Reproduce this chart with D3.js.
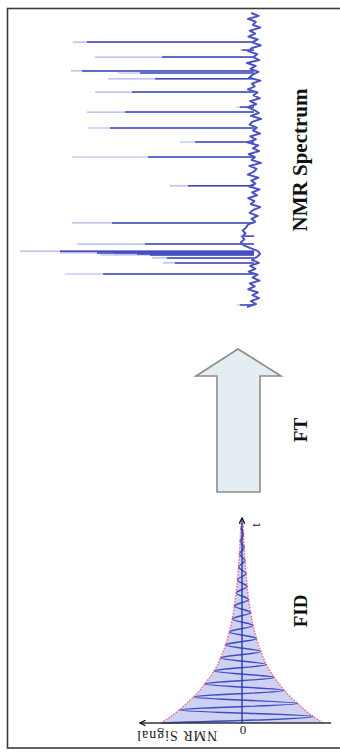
<!DOCTYPE html>
<html>
<head>
<meta charset="utf-8">
<script src="https://cdn.jsdelivr.net/npm/d3@7"></script>
<style>
  body { margin: 0; background: #fff; }
  svg { display: block; }
</style>
</head>
<body>
<div id="chart"></div>
<script>
// ---- NMR spectrum (peaks point to the left, chemical shift runs down) ----
const specPpm    = [9.01, 8.74, 8.50, 8.03, 7.96, 7.76, 7.31, 6.80, 6.63, 6.09, 5.61, 5.10, 4.12, 2.86, 2.41, 2.14, 1.90, 1.87, 1.84, 1.80, 1.77, 1.67, 1.50, 1.12, 0.07];
const specHeight = [77.4, 6.0, 67.9, 78.2, 58.1, 62.4, 67.9, 7.3, 71.4, 70.9, 31.6, 77.8, 35.9, 77.8, 6.0, 75.6, 100, 70, 82.9, 60, 65.8, 43.6, 38.9, 80.8, 7.3];
const specCore   = [71.4, 5.0, 39.3, 73.5, 48.7, 42.3, 52.1, 6.0, 55.1, 61.5, 25.2, 45.3, 28.2, 60.7, 5.0, 46.6, 82.9, 60, 67.1, 50, 44.4, 37.2, 33.8, 64.5, 6.0];
// baseline wiggle, one value every 0.1 ppm from 10 to 0
const baselineNoise = [
  1.2,-2.0,2.6,-0.8,0.5,-2.7,1.8,-0.5,2.4,-1.6,
  0.8,-2.9,1.1,2.5,-1.4,0.3,-2.3,3.0,-0.7,1.5,
  -1.9,0.6,2.1,-2.8,0.9,-0.3,2.6,-1.5,0.2,-2.5,
  1.7,-1.0,2.8,-0.1,-2.1,1.3,-3.1,0.7,1.9,-1.2,
  0.4,-2.6,1.6,-0.8,2.9,-1.8,0.5,-2.2,2.3,-0.4,
  1.0,-3.0,2.0,-1.1,0.1,2.7,-1.9,1.2,-0.6,2.2,
  -2.4,0.8,-1.3,2.5,-0.2,1.4,-2.7,0.3,1.9,-1.6,
  1.1,-0.5,2.6,3.4,4.8,3.6,5.2,4.1,5.6,4.4,
  1.5,-1.8,-2.6,-1.2,0.9,-2.1,1.7,-0.6,2.3,-1.5,
  0.6,-2.4,1.8,-0.3,2.5,-1.7,0.7,-2.2,1.3,-0.9,3.0
];

// ---- FID ----
const envTime = [0, 5, 10, 15, 20, 25, 30, 35, 40, 45, 50, 55, 60, 65, 70, 75, 80, 85, 90, 95, 100];
const envAmp  = [100, 82, 68, 55, 45, 36, 29, 24, 19.5, 16, 13, 10.7, 8.8, 7.2, 5.9, 4.8, 3.9, 3.1, 2.4, 1.8, 1.2];
// signal extremes, one every 3.25 time units
const fidSignal = [
  100,-88,77,-69,60,-52,46,-40,34.5,-30,
  26.5,-23.3,20.3,-17.8,15.7,-13.8,12,-10.6,9.4,-8.3,
  7.2,-6.3,5.6,-4.9,4.2,-3.7,3.2,-2.7,2.3,-1.9,1.5
];

const panelLabels = ["FID", "FT", "NMR Spectrum"];

const svg = d3.select('#chart').append('svg')
    .attr('width', 340)
    .attr('height', 752);

const defs = svg.append('defs');
defs.append('marker')
    .attr('id', 'head')
    .attr('viewBox', '0 0 10 10')
    .attr('refX', 9).attr('refY', 5)
    .attr('markerWidth', 7).attr('markerHeight', 7)
    .attr('markerUnits', 'userSpaceOnUse')
    .attr('orient', 'auto')
    .append('path')
    .attr('d', 'M1,1 L9,5 L1,9')
    .attr('fill', 'none')
    .attr('stroke', '#111')
    .attr('stroke-width', 1.8);

// frame (right edge runs off the page)
svg.append('rect')
    .attr('x', 7.5).attr('y', 8.5)
    .attr('width', 400).attr('height', 739.5)
    .attr('fill', 'none')
    .attr('stroke', '#3b3b3b')
    .attr('stroke-width', 1.6);

// ---------------- spectrum ----------------
let ppmY = d3.scaleLinear().domain([10, 0]).range([13, 307]);
let intX = d3.scaleLinear().domain([0, 100]).range([254, 20]);

let baseData = baselineNoise.map((v, i) => ({ ppm: 10 - i * 0.1, v: v }));
svg.append('path')
    .datum(baseData)
    .attr('d', d3.line().x(d => intX(d.v)).y(d => ppmY(d.ppm)))
    .attr('fill', 'none')
    .attr('stroke', '#4850c4')
    .attr('stroke-width', 1.9)
    .attr('stroke-linejoin', 'round');

let peaks = specPpm.map((p, i) => ({ ppm: p, h: specHeight[i], core: specCore[i] }));

// faint thin tips
svg.selectAll('.tip')
    .data(peaks)
    .enter().append('line')
    .attr('class', 'tip')
    .attr('x1', intX(0))
    .attr('x2', d => intX(d.h))
    .attr('y1', d => ppmY(d.ppm))
    .attr('y2', d => ppmY(d.ppm))
    .attr('stroke', '#aeb2ea')
    .attr('stroke-width', 1.1);

// darker lower part of each line
svg.selectAll('.core')
    .data(peaks)
    .enter().append('line')
    .attr('class', 'core')
    .attr('x1', intX(0))
    .attr('x2', d => intX(d.core))
    .attr('y1', d => ppmY(d.ppm))
    .attr('y2', d => ppmY(d.ppm))
    .attr('stroke', '#3f47bd')
    .attr('stroke-width', 1.5);

// ---------------- FT arrow ----------------
svg.append('path')
    .attr('d', 'M238,349 L281,376 L260,376 L260,492 L217,492 L217,376 L196,376 Z')
    .attr('fill', '#e4eef2')
    .attr('stroke', '#8c8c8c')
    .attr('stroke-width', 1.6)
    .attr('stroke-linejoin', 'miter');

// ---------------- FID ----------------
let tY = d3.scaleLinear().domain([0, 100]).range([723, 523]);
let sX = d3.scaleLinear().domain([-100, 100]).range([323, 161]);

let envData = envTime.map((t, i) => ({ t: t, a: envAmp[i] }));

svg.append('path')
    .datum(envData)
    .attr('d', d3.area()
        .y(d => tY(d.t))
        .x0(d => sX(-d.a))
        .x1(d => sX(d.a))
        .curve(d3.curveMonotoneY))
    .attr('fill', '#cfd1f3');

let sigData = fidSignal.map((s, i) => ({ t: i * 3.25, s: s }));
svg.append('path')
    .datum(sigData)
    .attr('d', d3.line().x(d => sX(d.s)).y(d => tY(d.t)).curve(d3.curveMonotoneY))
    .attr('fill', 'none')
    .attr('stroke', '#3c4bc2')
    .attr('stroke-width', 1.4);

[1, -1].forEach(function(sign) {
    svg.append('path')
        .datum(envData)
        .attr('d', d3.line().x(d => sX(sign * d.a)).y(d => tY(d.t)).curve(d3.curveMonotoneY))
        .attr('fill', 'none')
        .attr('stroke', '#ee6a80')
        .attr('stroke-width', 1.5)
        .attr('stroke-dasharray', '1.5,1.5');
});

// axes
svg.append('line')
    .attr('x1', sX(-110)).attr('x2', sX(126))
    .attr('y1', tY(0)).attr('y2', tY(0))
    .attr('stroke', '#333')
    .attr('stroke-width', 1.3)
    .attr('marker-end', 'url(#head)');
svg.append('line')
    .attr('x1', sX(0)).attr('x2', sX(0))
    .attr('y1', tY(0)).attr('y2', tY(102.5))
    .attr('stroke', '#2a3aa8')
    .attr('stroke-width', 1.4)
    .attr('marker-end', 'url(#head)');

svg.append('text')
    .attr('transform', `translate(${sX(80)},735) rotate(180)`)
    .attr('text-anchor', 'middle')
    .attr('dominant-baseline', 'central')
    .style('font-family', '"Liberation Serif", serif')
    .style('font-size', '14px')
    .style('fill', '#222')
    .attr('textLength', 80)
    .text('NMR Signal');
svg.append('text')
    .attr('transform', `translate(${sX(0) + 1},730) rotate(180)`)
    .attr('text-anchor', 'middle')
    .attr('dominant-baseline', 'central')
    .style('font-family', '"Liberation Serif", serif')
    .style('font-size', '13px')
    .style('fill', '#222')
    .text('0');
svg.append('text')
    .attr('transform', `translate(${sX(0) + 13},${tY(99)}) rotate(-90)`)
    .attr('text-anchor', 'middle')
    .attr('dominant-baseline', 'central')
    .style('font-family', '"Liberation Serif", serif')
    .style('font-size', '13px')
    .style('fill', '#222')
    .text('t');

// panel labels
let labelPos = [611, 430, 160];
panelLabels.forEach(function(lbl, i) {
    svg.append('text')
        .attr('transform', `translate(300,${labelPos[i]}) rotate(-90)`)
        .attr('text-anchor', 'middle')
        .attr('dominant-baseline', 'central')
        .style('font-family', '"Liberation Serif", "Times New Roman", serif')
        .style('font-weight', 'bold')
        .style('font-size', i === 2 ? '21px' : '19px')
        .style('fill', '#111')
        .text(lbl);
});
</script>
</body>
</html>
